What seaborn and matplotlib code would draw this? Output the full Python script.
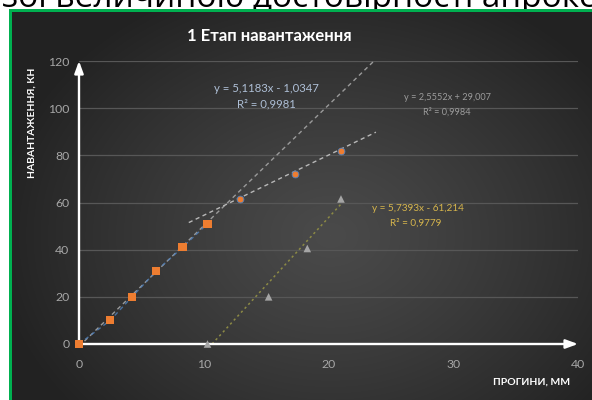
import numpy as np
import pandas as pd
import matplotlib
matplotlib.use("Agg")
import matplotlib.pyplot as plt
import seaborn as sns

# Measured points: stage 1 loading, deflection (mm) vs load (kN)
s1_x = [0.0, 2.5, 4.25, 6.2, 8.3, 10.3]
s1_y = [0.0, 10.0, 20.0, 31.0, 41.0, 51.0]
s2_x = [12.9, 17.3, 21.0]
s2_y = [61.5, 72.0, 82.0]
s3_x = [10.3, 15.2, 18.3, 21.0]
s3_y = [0.0, 20.0, 40.5, 61.5]

# Linear trend coefficients (slope, intercept, R²)
fit1 = (5.1183, -1.0347, "0,9981")
fit2 = (2.5552, 29.007, "0,9984")
fit3 = (5.7393, -61.214, "0,9779")

x_ticks = [0, 10, 20, 30, 40]
y_ticks = [0, 20, 40, 60, 80, 100, 120]

title = "1 Етап навантаження"
x_label = "ПРОГИНИ, ММ"
y_label = "НАВАНТАЖЕННЯ, КН"
caption = "зої величиною достовірності апроксимації"

sns.set_theme(style="white")
plt.rcParams["font.family"] = ["Lato", "DejaVu Sans"]

W, H = 592, 400
fig = plt.figure(figsize=(W / 100, H / 100), dpi=100)
fig.patch.set_facecolor("white")


def fx(px):
    return px / W


def fy(py):
    return 1 - py / H


# dark radial background with green frame
bg = fig.add_axes([0, 0, 1, 1], zorder=-10)
bg.set_axis_off()
bg.set_xlim(0, W)
bg.set_ylim(H, 0)
yy, xx = np.mgrid[0:H, 0:W]
r = np.sqrt(((xx - 330) / 340.0) ** 2 + ((yy - 235) / 270.0) ** 2)
v = 0x4a - (0x4a - 0x22) * np.clip(r, 0, 1) ** 1.2
img = np.dstack([v, v, v]) / 255.0
img[:, :9] = 1.0
green = np.array([0, 176, 80]) / 255.0
img[9:12, 9:] = green
img[9:, 9:12] = green
top = 9
bg.imshow(img[top:], extent=(0, W, H, top), interpolation="nearest", zorder=2)
bg.text(2, 7, caption, fontsize=24, color="black", va="baseline", ha="left",
        family=["Open Sans", "DejaVu Sans"], zorder=1)

# plotting area
ax = fig.add_axes([fx(79), fy(344), fx(578) - fx(79), fy(61) - fy(344)])
ax.set_facecolor("none")
ax.set_xlim(0, 40)
ax.set_ylim(0, 120)
for s in ax.spines.values():
    s.set_visible(False)
ax.set_xticks(x_ticks)
ax.set_yticks(y_ticks)
ax.tick_params(axis="both", length=0, colors="#a6a6a6", labelsize=8.8)
ax.tick_params(axis="x", pad=11)
ax.tick_params(axis="y", pad=7)
ax.yaxis.grid(True, color="#575757", lw=0.9)
ax.xaxis.grid(False)


def trend(fit, x0, x1):
    xs = np.linspace(x0, x1, 50)
    return pd.DataFrame({"x": xs, "y": fit[0] * xs + fit[1]})


dash = (3, 2.5)
t1 = trend(fit1, 0, (120 - fit1[1]) / fit1[0])
sns.lineplot(data=t1, x="x", y="y", ax=ax, color="#9a9a9a", lw=1.0,
             linestyle=(0, dash), zorder=2)
d1 = pd.DataFrame({"x": s1_x, "y": s1_y})
sns.lineplot(data=d1, x="x", y="y", ax=ax, color="#4f81bd", lw=1.0,
             linestyle=(0, dash), alpha=0.8, zorder=2)
t2 = trend(fit2, 8.8, 23.8)
sns.lineplot(data=t2, x="x", y="y", ax=ax, color="#b8b8b8", lw=1.0,
             linestyle=(0, dash), zorder=2)
t3 = trend(fit3, -fit3[1] / fit3[0], 21.0)
sns.lineplot(data=t3, x="x", y="y", ax=ax, color="#8c8a45", lw=1.1,
             linestyle=(0, (1.5, 2)), zorder=2)

sns.scatterplot(x=s1_x, y=s1_y, ax=ax, marker="s", s=34, color="#ed7d31",
                edgecolor="none", zorder=4, clip_on=False)
sns.scatterplot(x=s2_x, y=s2_y, ax=ax, marker="o", s=24, color="#ed7d31",
                edgecolor="#4f81bd", linewidth=0.6, zorder=4)
sns.scatterplot(x=s3_x, y=s3_y, ax=ax, marker="^", s=30, color="#a5a5a5",
                edgecolor="none", zorder=4, clip_on=False)
ax.set_xlabel("")
ax.set_ylabel("")

# axis arrows
arrow = dict(arrowstyle="-|>,head_length=0.6,head_width=0.22", color="white",
             lw=1.7, shrinkA=0, shrinkB=0)
ax.annotate("", xy=(40, 0), xytext=(0, 0), arrowprops=arrow, zorder=3,
            annotation_clip=False)
ax.annotate("", xy=(0, 120), xytext=(0, 0), arrowprops=arrow, zorder=3,
            annotation_clip=False)

# equation labels
fig.text(fx(266), fy(88), "y = 5,1183x - 1,0347", color="#aebfd6",
         fontsize=8.2, ha="center", va="center")
fig.text(fx(266), fy(103.5), f"R² = {fit1[2]}", color="#aebfd6",
         fontsize=8.2, ha="center", va="center")
fig.text(fx(447), fy(97.5), "y = 2,5552x + 29,007", color="#9c9c9c",
         fontsize=6.6, ha="center", va="center")
fig.text(fx(447), fy(112.5), f"R² = {fit2[2]}", color="#9c9c9c",
         fontsize=6.6, ha="center", va="center")
fig.text(fx(418), fy(208.5), "y = 5,7393x - 61,214", color="#d6b54c",
         fontsize=7.2, ha="center", va="center")
fig.text(fx(416), fy(223.5), f"R² = {fit3[2]}", color="#d6b54c",
         fontsize=7.2, ha="center", va="center")

fig.text(fx(269), fy(36), title, color="white", fontsize=12,
         fontweight="bold", ha="center", va="center")
fig.text(fx(32), fy(123), y_label, color="white", fontsize=7.5,
         fontweight="bold", ha="center", va="center", rotation=90)
fig.text(fx(532), fy(382), x_label, color="white", fontsize=7.5,
         fontweight="bold", ha="center", va="center")

fig.savefig("out.png", dpi=100)
